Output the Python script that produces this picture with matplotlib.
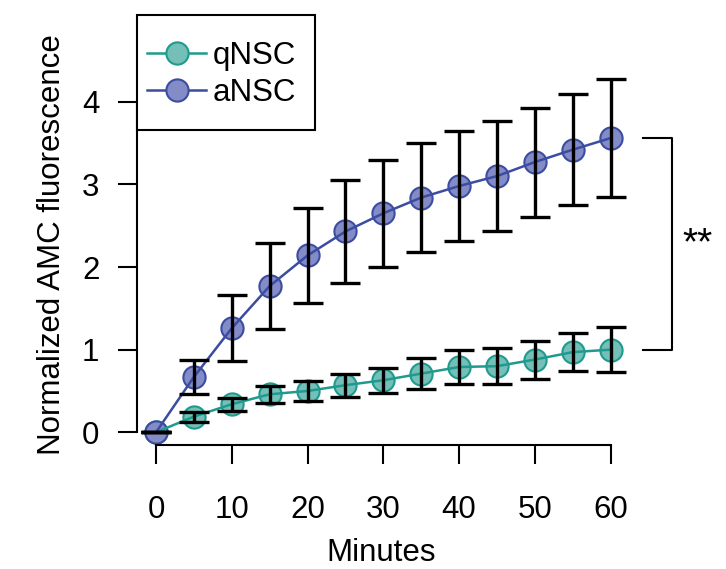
import matplotlib
matplotlib.use("Agg")
import matplotlib.pyplot as plt
from matplotlib.lines import Line2D
from matplotlib.patches import Rectangle
import numpy as np

plt.rcParams['font.family'] = ['Liberation Sans', 'DejaVu Sans']

minutes = [0, 5, 10, 15, 20, 25, 30, 35, 40, 45, 50, 55, 60]
qnsc = [0, 0.19, 0.34, 0.46, 0.50, 0.57, 0.63, 0.71, 0.79, 0.80, 0.88, 0.97, 1.00]
qnsc_err = [0, 0.06, 0.08, 0.10, 0.12, 0.14, 0.15, 0.19, 0.20, 0.22, 0.23, 0.23, 0.27]
ansc = [0, 0.67, 1.26, 1.77, 2.14, 2.43, 2.65, 2.84, 2.98, 3.10, 3.27, 3.42, 3.56]
ansc_err = [0, 0.21, 0.40, 0.52, 0.57, 0.62, 0.645, 0.66, 0.66, 0.67, 0.66, 0.67, 0.71]

q_edge, q_fill = '#1f9a8e', '#74bfb7'
a_edge, a_fill = '#3b4ca1', '#838cc6'
fs = 22.5
W, H = 726, 569

fig = plt.figure(figsize=(7.26, 5.69), dpi=100)
ax = fig.add_axes([0.1887, 0.2179, 0.6733, 0.705])

for y, err, ec, fc in [(qnsc, qnsc_err, q_edge, q_fill),
                       (ansc, ansc_err, a_edge, a_fill)]:
    ax.plot(minutes, y, 'o', ms=16, mfc=fc, mec=ec, mew=1.5, zorder=2)
    ax.plot(minutes, y, '-', color=ec, lw=1.8, zorder=3)
    ax.errorbar(minutes, y, yerr=err, fmt='none', ecolor='black',
                elinewidth=2.4, capsize=11, capthick=2.4, zorder=4)

ax.set_xlim(-2.51, 62)
ax.set_ylim(-0.154, 4.7)
ax.spines['top'].set_visible(False)
ax.spines['right'].set_visible(False)
ax.spines['left'].set_bounds(0, 4)
ax.spines['bottom'].set_bounds(0, 60)
for s in ['left', 'bottom']:
    ax.spines[s].set_linewidth(1.5)

ax.set_xticks(range(0, 61, 10))
ax.set_yticks(range(0, 5))
ax.tick_params(axis='both', length=14, width=1.5, labelsize=fs)
ax.tick_params(axis='y', pad=13)
ax.tick_params(axis='x', pad=22)
ax.set_xlabel('Minutes', fontsize=fs, labelpad=9)
ax.set_ylabel('Normalized AMC fluorescence', fontsize=fs, labelpad=11)

# significance bracket
ax.plot([64.3, 68.1, 68.1, 64.3], [ansc[-1], ansc[-1], qnsc[-1], qnsc[-1]],
        color='black', lw=1.5, clip_on=False)
ax.text(69.5, (ansc[-1] + qnsc[-1]) / 2, '**', fontsize=28, va='center',
        ha='left', clip_on=False)

# legend box (drawn as a frame so padding matches the original)
ax.add_patch(Rectangle((137 / W, 1 - 130 / H), 178 / W, 115 / H,
                       transform=fig.transFigure, facecolor='white',
                       edgecolor='black', lw=1.5, zorder=5, clip_on=False))
handles = [Line2D([], [], color=q_edge, lw=1.8, marker='o', ms=16, mfc=q_fill, mec=q_edge, mew=1.5),
           Line2D([], [], color=a_edge, lw=1.8, marker='o', ms=16, mfc=a_fill, mec=a_edge, mew=1.5)]
leg = ax.legend(handles, ['qNSC', 'aNSC'], loc='center left',
                bbox_to_anchor=(147 / W, 1 - 74.5 / H), bbox_transform=fig.transFigure,
                fontsize=fs, frameon=False, borderaxespad=0, borderpad=0,
                handlelength=1.9, handletextpad=0.2, labelspacing=0.2)
leg.set_zorder(6)

fig.savefig('out.png', dpi=100)
